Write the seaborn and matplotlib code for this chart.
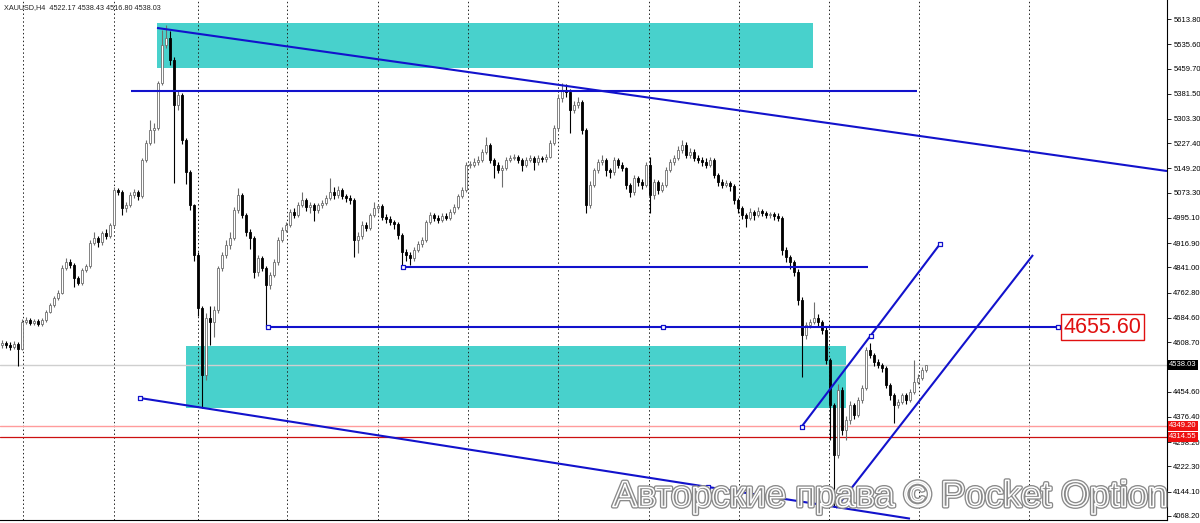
import numpy as np
import seaborn as sns
import matplotlib.pyplot as plt
import matplotlib.patheffects as pe
import matplotlib.transforms as mtransforms
from matplotlib.patches import Rectangle

# XAUUSD H4 candles (opens = previous close)
first_open = 4600
closes = [
    4606, 4600, 4594, 4603, 4587, 4671, 4678, 4668, 4675, 4665,
    4678, 4703, 4724, 4746, 4762, 4839, 4858, 4849, 4808, 4793,
    4833, 4846, 4917, 4933, 4920, 4948, 4939, 4973, 5082, 5076,
    5026, 5035, 5066, 5076, 5063, 5175, 5228, 5269, 5275, 5415,
    5533, 5555, 5486, 5346, 5377, 5238, 5138, 5035, 4880, 4715,
    4507, 4684, 4671, 4709, 4839, 4880, 4911, 4933, 5020, 5066,
    5004, 4951, 4933, 4827, 4871, 4839, 4787, 4818, 4858, 4927,
    4958, 4973, 5014, 5004, 5035, 5051, 5029, 5035, 5020, 5035,
    5042, 5057, 5076, 5066, 5082, 5063, 5057, 5051, 4927, 4939,
    4973, 4964, 5004, 5026, 5032, 4998, 4992, 4982, 4976, 4942,
    4889, 4880, 4871, 4895, 4914, 4927, 4982, 5004, 4995, 4989,
    5001, 4995, 5014, 5029, 5063, 5082, 5160, 5160, 5169, 5175,
    5200, 5222, 5175, 5160, 5144, 5150, 5175, 5182, 5185, 5175,
    5160, 5175, 5182, 5169, 5182, 5178, 5185, 5228, 5275, 5368,
    5393, 5387, 5331, 5346, 5356, 5269, 5035, 5098, 5144, 5169,
    5175, 5144, 5138, 5175, 5160, 5150, 5098, 5076, 5119, 5107,
    5098, 5160, 5066, 5107, 5082, 5098, 5144, 5169, 5182, 5206,
    5222, 5191, 5200, 5182, 5175, 5169, 5160, 5175, 5129, 5107,
    5098, 5104, 5094, 5051, 5026, 5004, 4995, 5014, 5004, 5017,
    5010, 5004, 5007, 5001, 4995, 4895, 4874, 4858, 4827, 4740,
    4631, 4662, 4671, 4684, 4671, 4647, 4553, 4413, 4258, 4460,
    4336, 4367, 4413, 4382, 4429, 4466, 4584, 4569, 4547, 4538,
    4528, 4476, 4444, 4413, 4423, 4444, 4429, 4454, 4485, 4497,
    4522.17, 4538.03]
highs = [
    4615, 4612, 4608, 4612, 4610, 4680, 4688, 4684, 4682, 4680,
    4684, 4710, 4730, 4752, 4770, 4848, 4870, 4866, 4855, 4815,
    4840, 4852, 4925, 4950, 4940, 4955, 4960, 4980, 5090, 5088,
    5082, 5045, 5075, 5085, 5082, 5182, 5236, 5300, 5290, 5422,
    5580, 5594, 5575, 5495, 5390, 5385, 5245, 5145, 5040, 4888,
    4720, 4700, 4720, 4722, 4846, 4890, 4925, 4950, 5030, 5088,
    5072, 5010, 4960, 4940, 4880, 4878, 4845, 4828, 4866, 4935,
    4966, 4982, 5022, 5025, 5045, 5076, 5058, 5045, 5042, 5042,
    5050, 5068, 5119, 5090, 5095, 5088, 5070, 5066, 5058, 4950,
    4985, 4982, 5012, 5045, 5040, 5038, 5008, 5000, 4990, 4982,
    4948, 4900, 4890, 4905, 4922, 4935, 4990, 5015, 5012, 5005,
    5010, 5012, 5022, 5038, 5070, 5092, 5168, 5172, 5180, 5188,
    5210, 5247, 5228, 5182, 5168, 5160, 5185, 5192, 5195, 5192,
    5182, 5185, 5190, 5188, 5190, 5188, 5195, 5236, 5285, 5380,
    5415, 5412, 5395, 5360, 5370, 5362, 5275, 5110, 5150, 5178,
    5192, 5180, 5150, 5185, 5180, 5168, 5155, 5105, 5128, 5125,
    5115, 5170, 5185, 5115, 5112, 5108, 5152, 5178, 5192, 5218,
    5238, 5230, 5212, 5208, 5190, 5185, 5180, 5185, 5180, 5135,
    5115, 5112, 5110, 5100, 5058, 5032, 5012, 5025, 5020, 5028,
    5024, 5018, 5015, 5014, 5010, 5000, 4905, 4880, 4865, 4835,
    4748, 4672, 4680, 4734, 4695, 4678, 4655, 4560, 4420, 4480,
    4470, 4380, 4425, 4420, 4438, 4475, 4595, 4606, 4575, 4555,
    4545, 4535, 4482, 4450, 4432, 4452, 4450, 4462, 4553, 4510,
    4530, 4538.43]
lows = [
    4590, 4592, 4585, 4588, 4535, 4585, 4665, 4662, 4663, 4660,
    4658, 4672, 4698, 4718, 4740, 4758, 4832, 4840, 4780, 4785,
    4788, 4826, 4840, 4910, 4905, 4912, 4930, 4932, 4968, 5065,
    5005, 5015, 5030, 5058, 5050, 5058, 5168, 5222, 5228, 5270,
    5408, 5525, 5470, 5104, 5330, 5225, 5100, 5020, 4860, 4690,
    4404, 4490, 4600, 4625, 4700, 4830, 4870, 4900, 4925, 5012,
    4995, 4940, 4900, 4808, 4815, 4830, 4656, 4775, 4810, 4850,
    4920, 4950, 4966, 4995, 4998, 5028, 5018, 5010, 4985, 5012,
    5025, 5035, 5050, 5055, 5058, 5055, 5045, 5040, 4874, 4885,
    4930, 4955, 4958, 4998, 5015, 4990, 4980, 4972, 4960, 4930,
    4841, 4860, 4850, 4862, 4888, 4905, 4920, 4975, 4985, 4978,
    4982, 4988, 4990, 5008, 5022, 5058, 5075, 5150, 5152, 5160,
    5168, 5195, 5165, 5120, 5135, 5091, 5145, 5168, 5175, 5165,
    5140, 5152, 5168, 5145, 5160, 5170, 5170, 5180, 5222, 5268,
    5355, 5370, 5259, 5320, 5338, 5255, 5010, 5025, 5090, 5135,
    5160, 5125, 5118, 5130, 5150, 5140, 5085, 5060, 5068, 5095,
    5085, 5090, 5010, 5055, 5070, 5075, 5090, 5138, 5160, 5175,
    5198, 5180, 5182, 5172, 5165, 5158, 5150, 5152, 5118, 5095,
    5088, 5090, 5080, 5040, 5012, 4992, 4967, 4988, 4990, 4998,
    5000, 4995, 4996, 4990, 4985, 4880, 4858, 4835, 4815, 4725,
    4500, 4620, 4652, 4665, 4660, 4635, 4540, 4304, 4096, 4250,
    4320, 4304, 4355, 4370, 4375, 4420, 4460, 4560, 4535, 4528,
    4515, 4465, 4430, 4357, 4405, 4415, 4418, 4422, 4448, 4478,
    4490, 4516.80]

# drawn objects (bar index, price)
zones = [(38.75, 202.75, 5461, 5601), (46, 211, 4404, 4597)]
h_levels = [(32.25, 228.75, 5390), (100.25, 216.5, 4841), (66.5, 264, 4655.60)]
trend_top = ([38.75, 291.25], [5586, 5141])
trend_low = ([34.5, 227], [4435, 4060])
channel_a = ([199.9, 234.5], [4346, 4914])
channel_b = ([208.5, 257.75], [4093, 4880])
anchor_x = [34.5, 176.5, 66.5, 165.25, 264, 100.25, 199.9, 217.15, 234.5]
anchor_y = [4435, 4158, 4655.6, 4655.6, 4655.6, 4841, 4346, 4629, 4914]
red_levels = [4349.20, 4314.55]
bid = 4538.03
grid_bars = [5.25, 28, 49, 71.25, 94, 116.5, 139, 161.75, 184.25, 206.75, 229.25, 256.75]
price_ticks = [5613.80, 5535.60, 5459.70, 5381.50, 5303.30, 5227.40, 5149.20,
               5073.30, 4995.10, 4916.90, 4841.00, 4762.80, 4684.60, 4608.70,
               4454.60, 4376.40, 4298.20, 4222.30, 4144.10, 4068.20]

sns.set_style("white")
plt.rcParams['font.family'] = ['Liberation Sans', 'DejaVu Sans']

fig = plt.figure(figsize=(12, 5.23), dpi=100)
ax = fig.add_axes([0, 3 / 523, 1167 / 1200, 520 / 523])
ax.set_xlim(-0.5, 291.25)
ax.set_ylim(4055.7, 5672.9)

blue = '#1212cc'
for x0, x1, y0, y1 in zones:
    ax.add_patch(Rectangle((x0, y0), x1 - x0, y1 - y0, facecolor='#48D1CC',
                           edgecolor='none', zorder=1))

for g in grid_bars:
    ax.axvline(g, color='#222222', lw=0.7, linestyle=(0, (1.5, 2.5)), zorder=2)

ax.axhline(bid, color='#cfcfcf', lw=1, zorder=2.5)
ax.axhline(red_levels[0], color='#ff9c9c', lw=1, zorder=2.5)
ax.axhline(red_levels[1], color='#cc1010', lw=0.9, zorder=2.5)

c = np.array(closes, dtype=float)
o = np.array([first_open] + closes[:-1], dtype=float)
hi = np.maximum(np.array(highs, dtype=float), np.maximum(o, c))
lo = np.minimum(np.array(lows, dtype=float), np.minimum(o, c))
idx = np.arange(len(c))
up = c >= o
ax.vlines(idx[up], lo[up], hi[up], color='#6e6e6e', lw=0.8, zorder=3)
ax.vlines(idx[~up], lo[~up], hi[~up], color='black', lw=0.8, zorder=3)
body_lo = np.minimum(o, c)
body_h = np.maximum(np.abs(c - o), 2.0)
ax.bar(idx[up], body_h[up], bottom=body_lo[up], width=0.55, color='white',
       edgecolor='#6e6e6e', linewidth=0.6, zorder=4)
ax.bar(idx[~up], body_h[~up], bottom=body_lo[~up], width=0.55, color='black',
       edgecolor='black', linewidth=0.6, zorder=4)

for x0, x1, y in h_levels:
    ax.hlines(y, x0, x1, color=blue, lw=1.5, zorder=5)
for xs, ys in [trend_top, trend_low, channel_a, channel_b]:
    ax.plot(xs, ys, color=blue, lw=1.5, zorder=5, solid_capstyle='butt')

sns.scatterplot(x=anchor_x, y=anchor_y, marker='s', s=10, color='white',
                edgecolor=blue, linewidth=0.9, zorder=6, ax=ax)

ax.text(264 + 1.4, 4655.60, '4655.60', ha='left', va='center', fontsize=15.5,
        color='#e01010', zorder=7,
        bbox=dict(boxstyle='square,pad=0.12', fc='white', ec='#e01010', lw=1))

# right price scale
ax.yaxis.tick_right()
ax.set_yticks(price_ticks)
ax.set_yticklabels([f'{t:.2f}' for t in price_ticks])
ax.tick_params(axis='y', right=True, left=False, length=3, width=0.6,
               pad=1.5, labelsize=5.5, colors='black')
ax.set_xticks([])
for s in ['top', 'left']:
    ax.spines[s].set_visible(False)
for s in ['right', 'bottom']:
    ax.spines[s].set_color('black')
    ax.spines[s].set_linewidth(0.8)

tr = mtransforms.blended_transform_factory(ax.transAxes, ax.transData)
ax.text(1.002, bid, f'{bid:.2f}', transform=tr, ha='left', va='center',
        fontsize=5.5, color='white', clip_on=False, zorder=8,
        bbox=dict(boxstyle='square,pad=0.2', fc='black', ec='none'))
for lvl in red_levels:
    ax.text(1.002, lvl, f'{lvl:.2f}', transform=tr, ha='left', va='center',
            fontsize=5.5, color='white', clip_on=False, zorder=8,
            bbox=dict(boxstyle='square,pad=0.2', fc='#ee1111', ec='none'))

fig.text(0.003, 0.986, 'XAUUSD,H4  4522.17 4538.43 4516.80 4538.03',
         fontsize=5.2, color='#222222', ha='left', va='center')

fig.text(890 / 1200, 1 - 497 / 523, 'Авторские права © Pocket Option',
         fontsize=26, ha='center', va='center', color=(1, 1, 1, 0), zorder=10,
         path_effects=[pe.Stroke(linewidth=3, foreground='#8a8a8a'),
                       pe.Stroke(linewidth=1.1, foreground='white')])

fig.savefig('out.png', dpi=100)
